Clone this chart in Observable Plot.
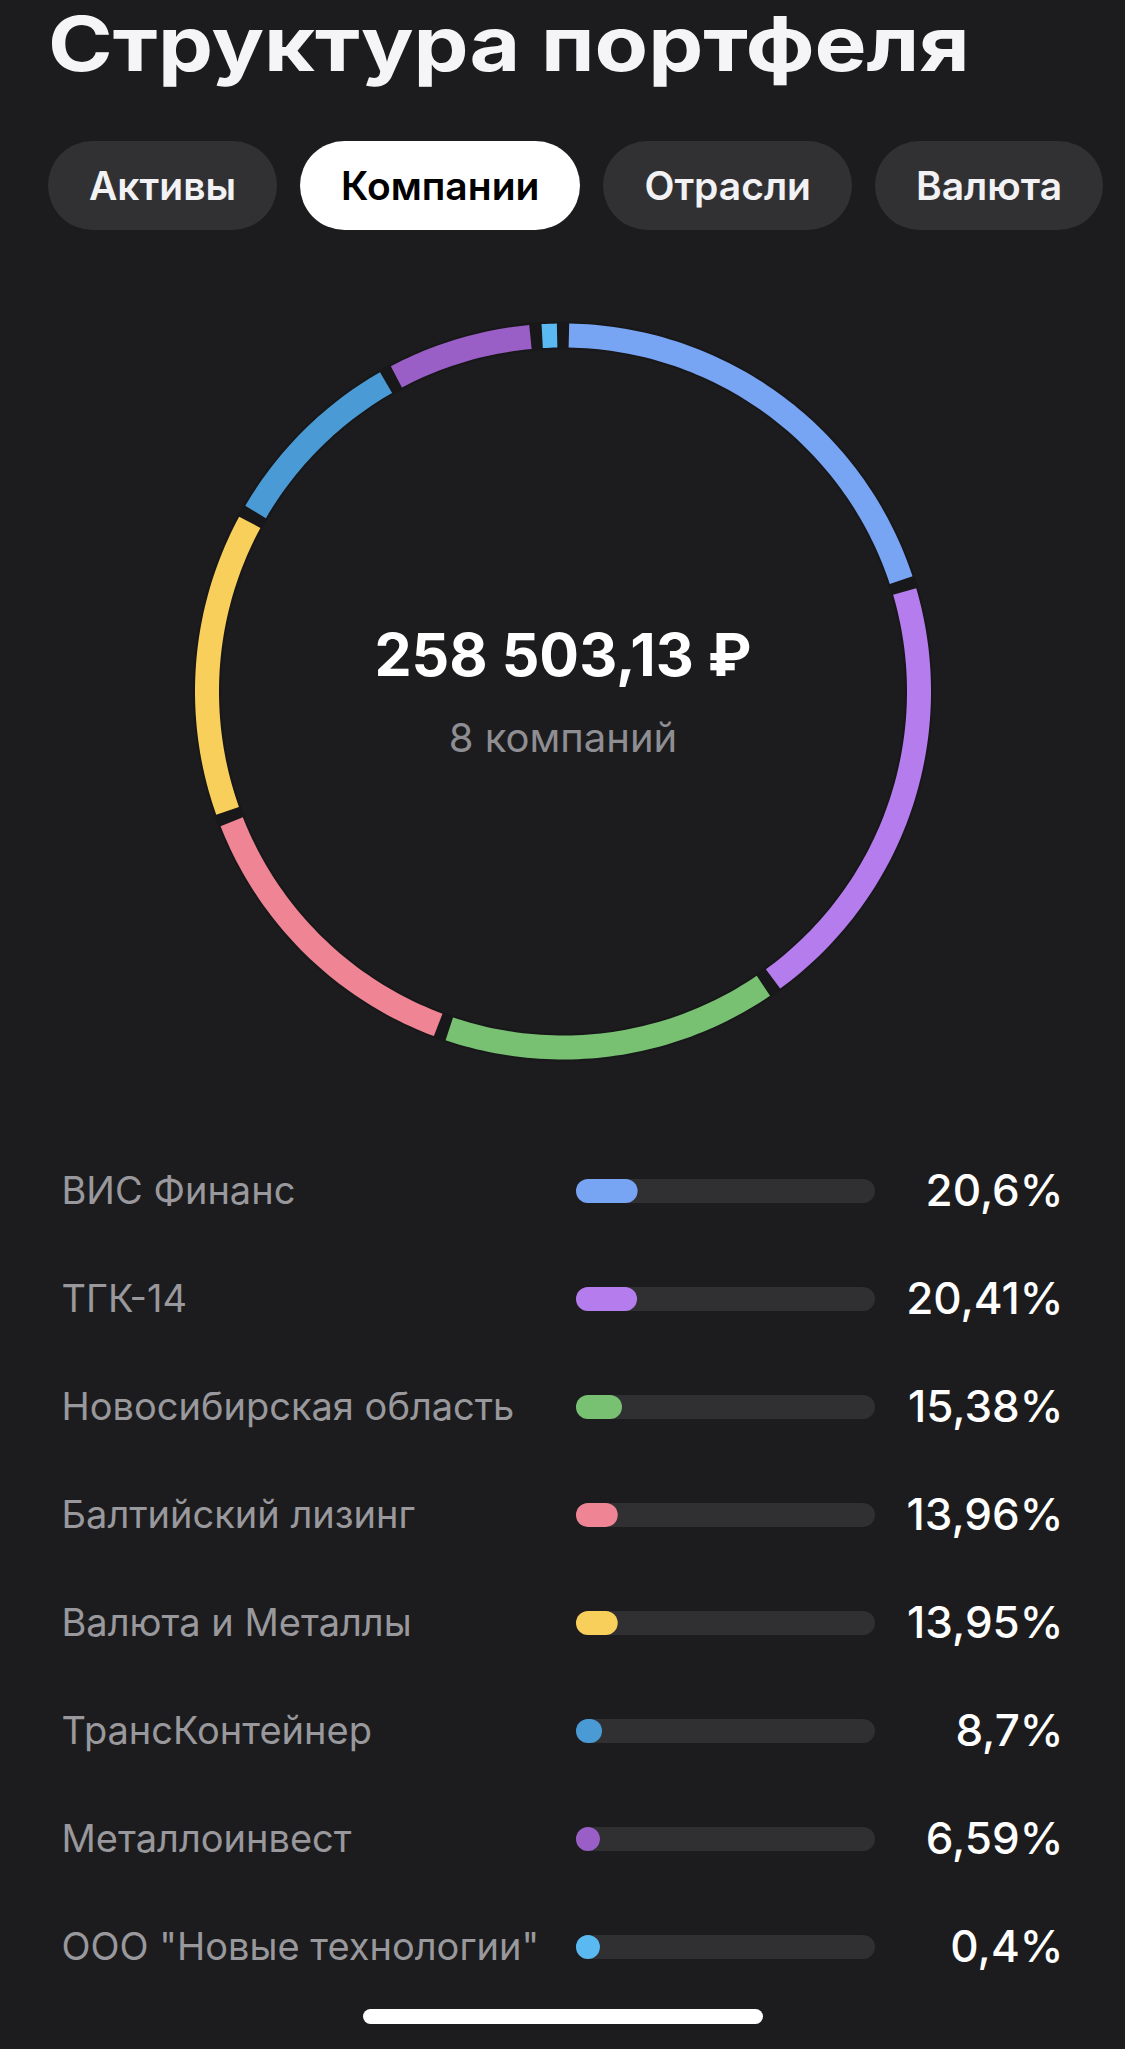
<!DOCTYPE html>
<html lang="ru">
<head>
<meta charset="utf-8">
<script src="https://cdn.jsdelivr.net/npm/d3@7"></script>
<script src="https://cdn.jsdelivr.net/npm/@observablehq/plot@0.6"></script>
<style>
  html, body { margin: 0; padding: 0; background: #1c1c1e; }
  body { width: 1125px; height: 2049px; position: relative; overflow: hidden; font-family: Inter, "Noto Sans", sans-serif; }
  h1 { position: absolute; left: 48px; top: 5px; margin: 0; font-size: 76px; line-height: 76px; font-weight: 700; color: #f5f5f7; white-space: nowrap; transform: scaleX(1.15); transform-origin: left center; }
  .tabs { position: absolute; left: 48px; top: 141px; display: flex; gap: 23px; }
  .tab { height: 89px; border-radius: 45px; background: #313133; color: #f2f2f4; font-size: 39px; font-weight: 600; display: flex; align-items: center; padding: 0 41px; box-sizing: border-box; }
  .tab.active { background: #ffffff; color: #000000; }
  #donut { position: absolute; left: 0; top: 281px; }
  #list { position: absolute; left: 0; top: 1137px; }
  .home { position: absolute; left: 363px; top: 2009px; width: 400px; height: 15px; border-radius: 8px; background: #ffffff; }
</style>
</head>
<body>
<h1>Структура портфеля</h1>
<div class="tabs" id="tabs"></div>
<div id="donut"></div>
<div id="list"></div>
<div class="home"></div>
<script>
// ---- data ----
const tabs = ["Активы", "Компании", "Отрасли", "Валюта"];
const activeTab = "Компании";
const names = ["ВИС Финанс", "ТГК-14", "Новосибирская область", "Балтийский лизинг", "Валюта и Металлы", "ТрансКонтейнер", "Металлоинвест", "ООО \"Новые технологии\""];
const pct = [20.6, 20.41, 15.38, 13.96, 13.95, 8.7, 6.59, 0.4];
const colors = ["#78a4f4", "#b57cee", "#78c172", "#ef8494", "#f8cf5a", "#4a9bd5", "#9a5fc6", "#5bb9f1"];
const totalLabel = "258 503,13 ₽";

// ---- tabs ----
const tabsEl = document.getElementById("tabs");
tabs.forEach(t => {
  const d = document.createElement("div");
  d.className = "tab" + (t === activeTab ? " active" : "");
  d.textContent = t;
  tabsEl.appendChild(d);
});

// ---- donut geometry derived from the data ----
const R = 356, gapDeg = 1.9, minDeg = 2.4, n = pct.length;
const isSmall = pct.map(p => p < 1);
const bigSum = d3.sum(pct.filter((p, i) => !isSmall[i]));
const k = (360 - n * gapDeg - isSmall.filter(Boolean).length * minDeg) / bigSum;
let cursor = gapDeg / 2;
const arcPts = [];
names.forEach((name, i) => {
  const span = isSmall[i] ? minDeg : pct[i] * k;
  const a0 = cursor, a1 = cursor + span;
  const steps = Math.max(4, Math.ceil(span));
  for (let s = 0; s <= steps; s++) {
    const a = (a0 + (a1 - a0) * s / steps) * Math.PI / 180;
    arcPts.push({name, x: R * Math.sin(a), y: R * Math.cos(a)});
  }
  cursor = a1 + gapDeg;
});
const bgRing = d3.range(0, 361, 2).map(a => ({x: R * Math.sin(a * Math.PI / 180), y: R * Math.cos(a * Math.PI / 180)}));

const donut = Plot.plot({
  width: 1125, height: 820, margin: 0,
  style: {background: "transparent"},
  x: {domain: [-562.5, 562.5], range: [0, 1125], axis: null},
  y: {domain: [-410, 410], range: [820, 0], axis: null},
  color: {domain: names, range: colors},
  marks: [
    Plot.line(bgRing, {x: "x", y: "y", stroke: "#18181a", strokeWidth: 28, curve: "linear"}),
    Plot.line(arcPts, {x: "x", y: "y", z: "name", stroke: "name", strokeWidth: 24, strokeLinecap: "butt", curve: "linear"}),
    Plot.text([totalLabel], {text: d => d, frameAnchor: "middle", dy: -34, fill: "#ffffff", fontSize: 59, fontWeight: 700, fontFamily: "Inter"}),
    Plot.text([`${names.length} компаний`], {text: d => d, frameAnchor: "middle", dy: 48, fill: "#8e8e93", fontSize: 40, fontFamily: "Inter"})
  ]
});
document.getElementById("donut").appendChild(donut);

// ---- list ----
const rows = names.map((name, i) => ({name, pct: pct[i], label: String(pct[i]).replace(".", ",") + "%"}));
const minPct = 8;
const list = Plot.plot({
  width: 1125, height: 864, margin: 0,
  style: {background: "transparent"},
  x: {domain: [0, 100], range: [576, 875], axis: null},
  y: {type: "band", domain: names, range: [0, 864], padding: 0, axis: null},
  color: {domain: names, range: colors},
  marks: [
    Plot.barX(rows, {x1: d => 0, x2: d => 100, y: "name", fill: "#303032", rx: 12, insetTop: 42, insetBottom: 42}),
    Plot.barX(rows, {x1: d => 0, x2: d => Math.max(d.pct, minPct), y: "name", fill: "name", rx: 12, insetTop: 42, insetBottom: 42}),
    Plot.text(rows, {y: "name", text: "name", frameAnchor: "left", dx: 61, textAnchor: "start", fill: "#98989d", fontSize: 38, fontFamily: "Inter"}),
    Plot.text(rows, {y: "name", text: "label", frameAnchor: "right", dx: -62, textAnchor: "end", fill: "#ffffff", fontSize: 44, fontWeight: 500, fontFamily: "Inter"})
  ]
});
document.getElementById("list").appendChild(list);
</script>
</body>
</html>
